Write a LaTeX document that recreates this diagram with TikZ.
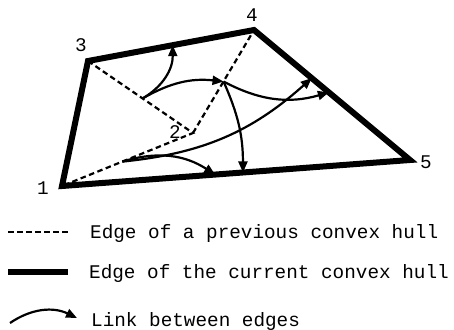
\documentclass[tikz,border=0pt]{standalone}
\usepackage{fontspec}
\setmainfont{Liberation Mono}
\usetikzlibrary{arrows.meta,calc}

\begin{document}
\begin{tikzpicture}[x=1bp, y=1bp, font=\fontsize{19.4}{24}\selectfont]
    % Define styles
    \tikzstyle{hull} = [line width=6bp, line join=miter]
    \tikzstyle{prev} = [line width=2.2bp, dash pattern=on 5.5bp off 3.5bp]
    \tikzstyle{link} = [line width=2.2bp, -{Triangle[length=11bp,width=9bp]}]
    \tikzstyle{vlabel} = [inner sep=0pt]
    \tikzstyle{legtext} = [anchor=base west, inner sep=0pt]

    \useasboundingbox (0,0) rectangle (454,329);

    % Vertices
    \coordinate (p1) at (62,143);
    \coordinate (p2) at (193,196);
    \coordinate (p3) at (88,268);
    \coordinate (p4) at (254,299);
    \coordinate (p5) at (410,169);

    \node [vlabel] (l1) at (43,141) {1};
    \node [vlabel] (l2) at (175,197) {2};
    \node [vlabel] (l3) at (81,284) {3};
    \node [vlabel] (l4) at (252,314) {4};
    \node [vlabel] (l5) at (426,167) {5};

    % Edges
    \draw [prev] (p3) -- (p2) -- (p1);
    \draw [prev] (p2) -- (p4);
    \draw [hull] (p1) -- (p3) -- (p4) -- (p5) -- cycle;

    % Link points
    \coordinate (m32) at ($(p3)!0.52!(p2)$);
    \coordinate (m24) at ($(p2)!0.5!(p4)$);
    \coordinate (m12) at ($(p1)!0.46!(p2)$);
    \coordinate (t34) at ($(p3)!0.51!(p4)$);
    \coordinate (t45a) at ($(p4)!0.37!(p5)$);
    \coordinate (t45b) at ($(p4)!0.48!(p5)$);
    \coordinate (t15a) at ($(p1)!0.44!(p5)$);
    \coordinate (t15b) at ($(p1)!0.52!(p5)$);

    % Links
    \draw [link] (m32) to[bend right=30] (t34);
    \draw [link] (m32) to[bend left=18] (m24);
    \draw [link] (m24) to[bend right=22] (t45b);
    \draw [link] (m24) to[bend left=12] (t15b);
    \draw [link] (m12) to[bend right=18] (t45a);
    \draw [link] (m12) to[bend left=25] (t15a);

    % Legend
    \coordinate (a1) at (8,97);
    \coordinate (a2) at (70,97);
    \coordinate (b1) at (8,57);
    \coordinate (b2) at (68,57);
    \coordinate (c1) at (10,6);
    \coordinate (c2) at (77,11);
    \draw [prev] (a1) -- (a2);
    \draw [hull] (b1) -- (b2);
    \draw [link] (c1) to[bend left=30] (c2);
    \node [legtext] (tprev) at (90,91) {Edge of a previous convex hull};
    \node [legtext] (thull) at (89,51) {Edge of the current convex hull};
    \node [legtext] (tlink) at (91,3) {Link between edges};
\end{tikzpicture}
\end{document}
